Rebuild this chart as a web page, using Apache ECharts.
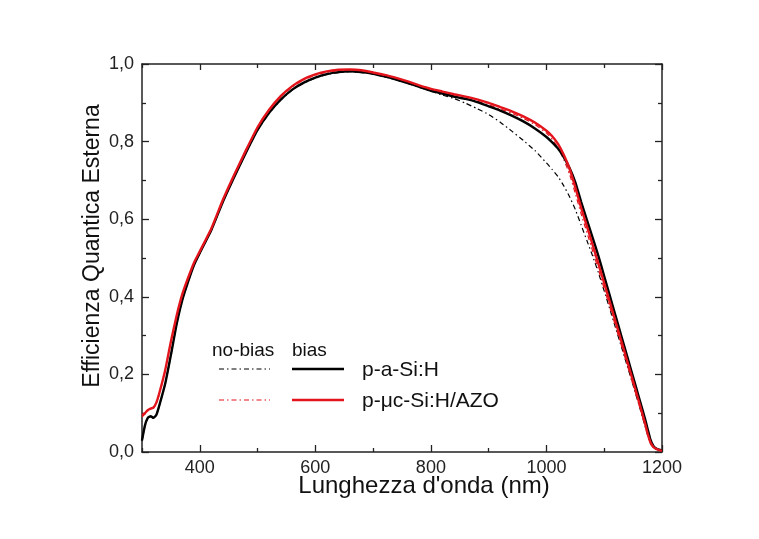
<!DOCTYPE html>
<html>
<head>
<meta charset="utf-8">
<script src="https://cdn.jsdelivr.net/npm/echarts@6/dist/echarts.min.js"></script>
<style>
html,body{margin:0;padding:0;background:#fff;}
#chart{width:759px;height:539px;}
</style>
</head>
<body>
<div id="chart"></div>
<script>
// ---- data ----
const wavelengths = [300,305,310,315,320,325,330,340,350,360,370,380,390,400,420,440,460,480,500,520,540,560,580,600,620,640,660,680,700,720,740,760,780,800,820,840,860,880,900,920,940,960,980,1000,1010,1020,1030,1040,1050,1060,1070,1080,1090,1100,1110,1120,1130,1140,1150,1160,1170,1175,1180,1185,1190,1195,1200];

const aSiBias = [0.030,0.068,0.088,0.092,0.088,0.096,0.120,0.175,0.250,0.330,0.393,0.440,0.482,0.513,0.572,0.645,0.710,0.772,0.830,0.874,0.908,0.934,0.952,0.965,0.974,0.979,0.981,0.979,0.975,0.968,0.960,0.951,0.941,0.931,0.924,0.916,0.910,0.902,0.891,0.880,0.867,0.852,0.834,0.812,0.798,0.782,0.760,0.732,0.695,0.645,0.598,0.552,0.505,0.453,0.401,0.349,0.297,0.245,0.193,0.141,0.089,0.060,0.032,0.016,0.009,0.006,0.004];

const aSiNoBias = [0.028,0.066,0.087,0.091,0.087,0.095,0.119,0.174,0.249,0.329,0.392,0.439,0.481,0.512,0.571,0.644,0.709,0.771,0.829,0.873,0.907,0.933,0.951,0.964,0.973,0.978,0.980,0.978,0.974,0.967,0.959,0.950,0.940,0.930,0.920,0.911,0.899,0.885,0.870,0.850,0.827,0.803,0.777,0.745,0.728,0.710,0.686,0.658,0.625,0.585,0.545,0.505,0.462,0.415,0.367,0.318,0.270,0.221,0.172,0.122,0.070,0.044,0.022,0.012,0.007,0.005,0.003];

const ucSiBias = [0.095,0.100,0.108,0.112,0.115,0.128,0.152,0.210,0.285,0.352,0.408,0.450,0.488,0.517,0.576,0.650,0.716,0.778,0.837,0.882,0.917,0.943,0.961,0.973,0.981,0.985,0.986,0.984,0.978,0.972,0.964,0.955,0.945,0.936,0.929,0.922,0.916,0.909,0.900,0.889,0.878,0.865,0.849,0.828,0.814,0.794,0.766,0.730,0.682,0.630,0.582,0.534,0.485,0.435,0.385,0.334,0.284,0.233,0.182,0.130,0.077,0.048,0.025,0.013,0.008,0.005,0.003];

const ucSiNoBias = [0.090,0.098,0.106,0.110,0.113,0.126,0.150,0.208,0.283,0.350,0.406,0.448,0.486,0.515,0.574,0.648,0.714,0.776,0.835,0.880,0.915,0.941,0.959,0.971,0.979,0.983,0.984,0.982,0.977,0.971,0.963,0.954,0.944,0.934,0.926,0.918,0.911,0.904,0.895,0.884,0.873,0.860,0.844,0.822,0.806,0.784,0.754,0.716,0.666,0.614,0.566,0.518,0.470,0.421,0.372,0.322,0.273,0.223,0.173,0.123,0.072,0.045,0.023,0.012,0.007,0.005,0.003];

const xMajorTicks = [400,600,800,1000,1200];
const xMinorTicks = [300,500,700,900,1100];
const seriesNames = ['p-a-Si:H no-bias','p-μc-Si:H/AZO no-bias','p-a-Si:H bias','p-μc-Si:H/AZO bias'];
const legendHeaders = ['no-bias','bias'];
const legendLabels = ['p-a-Si:H','p-μc-Si:H/AZO'];

// ---- styles ----
const BLACK = '#000000';
const RED = '#e3141b';
const AXIS = '#222222';
const FONT = '"Liberation Sans", Arial, sans-serif';
const DASHDOT = [5,3,1.5,3];

function pairs(vals){ return wavelengths.map((w,i)=>[w, vals[i]]); }

const chart = echarts.init(document.getElementById('chart'), null, {renderer:'canvas'});

const grid = {left:142, right:97, top:64, bottom:87};
const xBase = {type:'value', min:300, max:1200, gridIndex:0};
const lineStyleAxis = {show:true, lineStyle:{color:AXIS, width:1.5}};

const option = {
  backgroundColor:'#ffffff',
  animation:false,
  grid: grid,
  xAxis: [
    Object.assign({}, xBase, {position:'bottom', axisLine:lineStyleAxis,
      axisTick:{show:true, inside:true, length:7, customValues:xMajorTicks, lineStyle:{color:AXIS,width:1.3}},
      axisLabel:{show:true, customValues:xMajorTicks, margin:7, color:'#222', fontSize:18, fontFamily:FONT,
        formatter:v=>String(v)},
      splitLine:{show:false}}),
    Object.assign({}, xBase, {position:'bottom', axisLine:{show:false},
      axisTick:{show:true, inside:true, length:4, customValues:xMinorTicks, lineStyle:{color:AXIS,width:1.3}},
      axisLabel:{show:false}, splitLine:{show:false}}),
    Object.assign({}, xBase, {position:'top', axisLine:lineStyleAxis,
      axisTick:{show:true, inside:true, length:6, customValues:xMajorTicks, lineStyle:{color:AXIS,width:1.3}},
      axisLabel:{show:false}, splitLine:{show:false}}),
    Object.assign({}, xBase, {position:'top', axisLine:{show:false},
      axisTick:{show:true, inside:true, length:4, customValues:xMinorTicks, lineStyle:{color:AXIS,width:1.3}},
      axisLabel:{show:false}, splitLine:{show:false}})
  ],
  yAxis: [
    {type:'value', min:0, max:1, interval:0.2, position:'left', axisLine:lineStyleAxis,
      axisTick:{show:true, inside:true, length:7, lineStyle:{color:AXIS,width:1.3}},
      minorTick:{show:true, splitNumber:2, length:4, lineStyle:{color:AXIS,width:1.3}},
      axisLabel:{show:true, margin:8, color:'#222', fontSize:18, fontFamily:FONT,
        formatter:v=>v.toFixed(1).replace('.',',')},
      splitLine:{show:false}, minorSplitLine:{show:false}},
    {type:'value', min:0, max:1, interval:0.2, position:'right', axisLine:lineStyleAxis,
      axisTick:{show:true, inside:true, length:7, lineStyle:{color:AXIS,width:1.3}},
      minorTick:{show:true, splitNumber:2, length:4, lineStyle:{color:AXIS,width:1.3}},
      axisLabel:{show:false}, splitLine:{show:false}, minorSplitLine:{show:false}}
  ],
  series: [
    {name:seriesNames[0], type:'line', data:pairs(aSiNoBias), showSymbol:false, symbol:'none', smooth:0.15,
      lineStyle:{color:BLACK, width:1.2, type:DASHDOT}, z:2},
    {name:seriesNames[1], type:'line', data:pairs(ucSiNoBias), showSymbol:false, symbol:'none', smooth:0.15,
      lineStyle:{color:RED, width:1.2, type:DASHDOT}, z:2},
    {name:seriesNames[2], type:'line', data:pairs(aSiBias), showSymbol:false, symbol:'none', smooth:0.15,
      lineStyle:{color:BLACK, width:2.4}, z:3},
    {name:seriesNames[3], type:'line', data:pairs(ucSiBias), showSymbol:false, symbol:'none', smooth:0.15,
      lineStyle:{color:RED, width:2.4}, z:4}
  ],
  graphic: [
    {type:'text', x:424, y:486, style:{text:"Lunghezza d'onda (nm)", font:'24px '+FONT, fill:'#111', align:'center', verticalAlign:'middle'}},
    {type:'text', x:93, y:246, rotation:Math.PI/2, style:{text:'Efficienza Quantica Esterna', font:'23px '+FONT, fill:'#111', align:'center', verticalAlign:'middle'}},
    {type:'text', x:212, y:351, style:{text:legendHeaders[0], font:'19px '+FONT, fill:'#111', align:'left', verticalAlign:'middle'}},
    {type:'text', x:292, y:351, style:{text:legendHeaders[1], font:'19px '+FONT, fill:'#111', align:'left', verticalAlign:'middle'}},
    {type:'line', shape:{x1:219, y1:369, x2:270, y2:369}, style:{stroke:BLACK, lineWidth:1.2, lineDash:DASHDOT}},
    {type:'line', shape:{x1:292, y1:369, x2:344, y2:369}, style:{stroke:BLACK, lineWidth:2.6}},
    {type:'text', x:362, y:370, style:{text:legendLabels[0], font:'21px '+FONT, fill:'#111', align:'left', verticalAlign:'middle'}},
    {type:'line', shape:{x1:219, y1:400, x2:270, y2:400}, style:{stroke:RED, lineWidth:1.2, lineDash:DASHDOT}},
    {type:'line', shape:{x1:292, y1:400, x2:344, y2:400}, style:{stroke:RED, lineWidth:2.6}},
    {type:'text', x:362, y:401, style:{text:legendLabels[1], font:'21px '+FONT, fill:'#111', align:'left', verticalAlign:'middle'}}
  ]
};
chart.setOption(option);
</script>
</body>
</html>
